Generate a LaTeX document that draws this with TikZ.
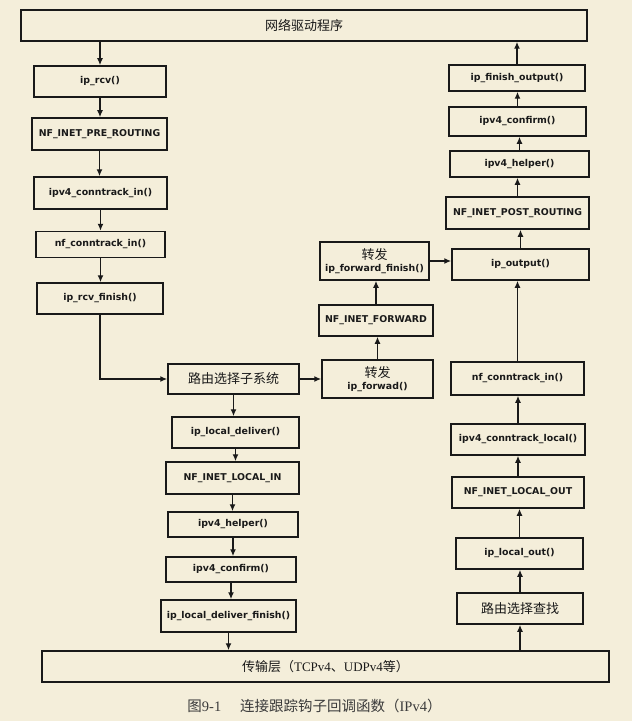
\documentclass[tikz,border=0pt]{standalone}
\usepackage{fontspec}
\setmainfont{Liberation Serif}
\newfontfamily\cjk{Noto Sans CJK SC}
\newfontfamily\lab{DejaVu Sans}
\usetikzlibrary{arrows.meta}
\definecolor{bg}{RGB}{244,238,218}
\definecolor{ink}{RGB}{25,25,25}
\tikzset{
  box/.style={draw=ink, line width=1.5bp, inner sep=0pt, text=ink,
    font=\lab\bfseries\fontsize{9.4bp}{14bp}\selectfont, align=center},
  zhbox/.style={box, font=\cjk\mdseries\fontsize{13bp}{15bp}\selectfont},
  arr/.style={draw=ink, line width=1.5bp, -{Latex[length=7bp,width=6bp]}},
}
\newcommand\zh[1]{{\cjk\mdseries\fontsize{13bp}{15bp}\selectfont #1}}
\begin{document}
\begin{tikzpicture}[x=1bp,y=-1bp]
\fill[bg] (0,0) rectangle (632,721);
\useasboundingbox (0,0) rectangle (632,721);
% top and bottom
\node[zhbox, minimum width=566bp, minimum height=31bp] (top) at (304,25.5) {网络驱动程序};
\node[box, font=\mdseries\fontsize{13bp}{15bp}\selectfont, minimum width=567bp, minimum height=31bp] (bottom) at (325.5,666.5)
  {\zh{传输层（}TCPv4\zh{、}UDPv4\zh{等）}};
% left column
\node[box, minimum width=132bp, minimum height=31bp] (rcv) at (100,81.5) {ip\_rcv()};
\node[box, minimum width=135bp, minimum height=32bp] (pre) at (99.5,134) {NF\_INET\_PRE\_ROUTING};
\node[box, minimum width=133bp, minimum height=32bp] (cin) at (100.5,193) {ipv4\_conntrack\_in()};
\node[box, minimum width=129bp, minimum height=26bp] (nfin) at (100.5,244.5) {nf\_conntrack\_in()};
\node[box, minimum width=126bp, minimum height=31bp] (rfin) at (100,298.5) {ip\_rcv\_finish()};
% middle column
\node[zhbox, minimum width=131bp, minimum height=30bp] (route) at (233.5,379) {路由选择子系统};
\node[box, minimum width=127bp, minimum height=31bp] (ld) at (235.5,432.5) {ip\_local\_deliver()};
\node[box, minimum width=133bp, minimum height=32bp] (lin) at (232.5,478) {NF\_INET\_LOCAL\_IN};
\node[box, minimum width=130bp, minimum height=25bp] (lh) at (233,524.5) {ipv4\_helper()};
\node[box, minimum width=130bp, minimum height=25bp] (lc) at (231,569.5) {ipv4\_confirm()};
\node[box, minimum width=135bp, minimum height=32bp] (ldf) at (228.5,616) {ip\_local\_deliver\_finish()};
% forward column
\node[box, minimum width=111bp, minimum height=38bp] (fwd) at (377.5,379) {\zh{转发}\\[-2bp]ip\_forwad()};
\node[box, minimum width=114bp, minimum height=31bp] (ffw) at (376,320.5) {NF\_INET\_FORWARD};
\node[box, minimum width=109bp, minimum height=38bp] (ffin) at (374.5,261) {\zh{转发}\\[-2bp]ip\_forward\_finish()};
% right column
\node[box, minimum width=136bp, minimum height=26bp] (fo) at (517,78) {ip\_finish\_output()};
\node[box, minimum width=137bp, minimum height=29bp] (cr) at (517.5,121.5) {ipv4\_confirm()};
\node[box, minimum width=139bp, minimum height=26bp] (hr) at (519.5,164) {ipv4\_helper()};
\node[box, minimum width=143bp, minimum height=32bp] (post) at (517.5,213) {NF\_INET\_POST\_ROUTING};
\node[box, minimum width=137bp, minimum height=31bp] (out) at (520.5,264.5) {ip\_output()};
\node[box, minimum width=133bp, minimum height=33bp] (ncr) at (517.5,378.5) {nf\_conntrack\_in()};
\node[box, minimum width=134bp, minimum height=31bp] (ctl) at (518,439.5) {ipv4\_conntrack\_local()};
\node[box, minimum width=132bp, minimum height=31bp] (nlo) at (518,492.5) {NF\_INET\_LOCAL\_OUT};
\node[box, minimum width=127bp, minimum height=31bp] (lout) at (519.5,553.5) {ip\_local\_out()};
\node[zhbox, minimum width=126bp, minimum height=31bp] (lookup) at (520,608.5) {路由选择查找};
% caption
\node[text=ink!85, font=\fontsize{14.5bp}{17bp}\selectfont] (cap) at (314.5,706)
  {{\cjk 图}9-1\hspace{1.3em}{\cjk 连接跟踪钩子回调函数（}IPv4{\cjk ）}};
% arrows, receive path
\draw[arr] (top.south -| rcv.north) -- (rcv.north);
\draw[arr] (rcv.south) -- (rcv.south |- pre.north);
\draw[arr] (pre.south) -- (pre.south |- cin.north);
\draw[arr] (cin.south) -- (cin.south |- nfin.north);
\draw[arr] (nfin.south) -- (nfin.south |- rfin.north);
\draw[arr] (rfin.south) |- (route.west);
\draw[arr] (route.east) -- (route.east -| fwd.west);
\draw[arr] (route.south) -- (route.south |- ld.north);
\draw[arr] (ld.south) -- (ld.south |- lin.north);
\draw[arr] (lin.south) -- (lin.south |- lh.north);
\draw[arr] (lh.south) -- (lh.south |- lc.north);
\draw[arr] (lc.south) -- (lc.south |- ldf.north);
\draw[arr] (ldf.south) -- (ldf.south |- bottom.north);
% local out path
\draw[arr] (lookup.south |- bottom.north) -- (lookup.south);
\draw[arr] (lookup.north) -- (lookup.north |- lout.south);
\draw[arr] (lout.north) -- (lout.north |- nlo.south);
\draw[arr] (nlo.north) -- (nlo.north |- ctl.south);
\draw[arr] (ctl.north) -- (ctl.north |- ncr.south);
\draw[arr] (ncr.north) -- (ncr.north |- out.south);
\draw[arr] (out.north) -- (out.north |- post.south);
\draw[arr] (post.north) -- (post.north |- hr.south);
\draw[arr] (hr.north) -- (hr.north |- cr.south);
\draw[arr] (cr.north) -- (cr.north |- fo.south);
\draw[arr] (fo.north) -- (fo.north |- top.south);
% forward path
\draw[arr] (fwd.north) -- (fwd.north |- ffw.south);
\draw[arr] (ffw.north) -- (ffw.north |- ffin.south);
\draw[arr] (ffin.east) -- (ffin.east -| out.west);
\end{tikzpicture}
\end{document}
